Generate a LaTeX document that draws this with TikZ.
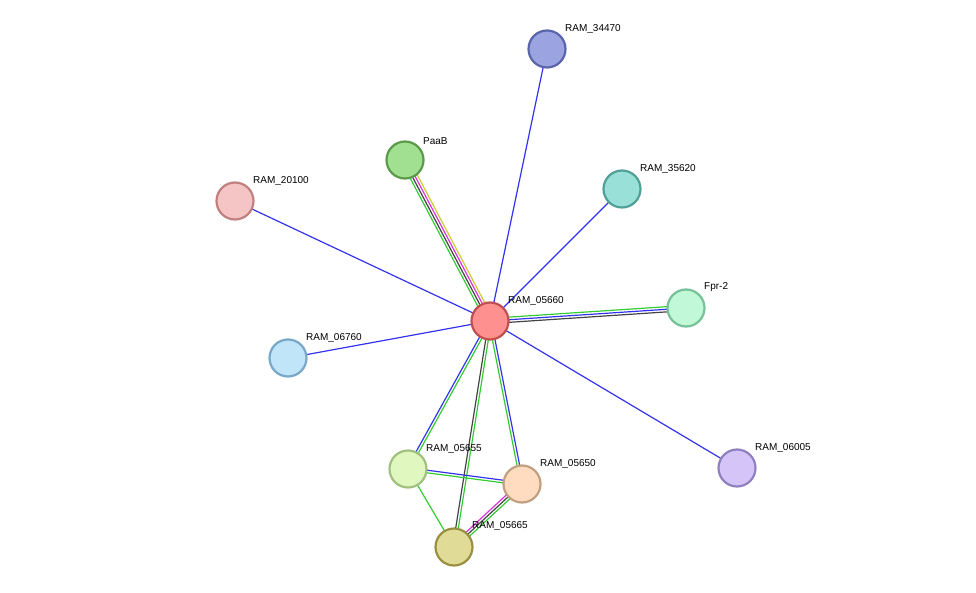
\documentclass[tikz,border=0pt]{standalone}
\usepackage{fontspec}
\setmainfont{Liberation Sans}
\usetikzlibrary{calc,backgrounds}
\definecolor{eg}{HTML}{33CC33}
\definecolor{eb}{HTML}{3333EE}
\definecolor{ek}{HTML}{444444}
\definecolor{em}{HTML}{DD33DD}
\definecolor{ey}{HTML}{CCCC33}
\definecolor{f0}{HTML}{FF9090}\definecolor{d0}{HTML}{C05050}
\definecolor{f1}{HTML}{9BA4E0}\definecolor{d1}{HTML}{5A64A8}
\definecolor{f2}{HTML}{A0E090}\definecolor{d2}{HTML}{5A9A4A}
\definecolor{f3}{HTML}{F5C4C4}\definecolor{d3}{HTML}{C08080}
\definecolor{f4}{HTML}{98E0D8}\definecolor{d4}{HTML}{50A098}
\definecolor{f5}{HTML}{C0F8D8}\definecolor{d5}{HTML}{78C098}
\definecolor{f6}{HTML}{C0E4F8}\definecolor{d6}{HTML}{78A8C8}
\definecolor{f7}{HTML}{E0F8C0}\definecolor{d7}{HTML}{A0C080}
\definecolor{f8}{HTML}{FFDCC0}\definecolor{d8}{HTML}{C0A080}
\definecolor{f9}{HTML}{E0DC98}\definecolor{d9}{HTML}{989040}
\definecolor{f10}{HTML}{D4C4F8}\definecolor{d10}{HTML}{9080C0}
\tikzset{
  prot/.style={circle,minimum size=37pt,inner sep=0pt,line width=2.2pt,fill=f#1,draw=d#1},
  lbl/.style={font=\fontsize{10}{12}\selectfont,anchor=south west,inner sep=1pt},
  edge/.style={line width=1.2pt}
}
\newcommand{\medge}[3]{%
  \foreach \c [count=\i] in {#3} {\xdef\ncount{\i}}%
  \foreach \c [count=\i] in {#3} {%
    \pgfmathsetmacro{\off}{(\i-1)*2.6-(\ncount-1)*1.3}%
    \draw[edge,\c] ($(#1.center)!\off pt!90:(#2.center)$) -- ($(#2.center)!\off pt!-90:(#1.center)$);}%
}
\begin{document}
\begin{tikzpicture}[x=1pt,y=-1pt]
\useasboundingbox (0,0) rectangle (976,593);
\node[prot=0] (c) at (490,321) {};
\node[prot=1] (a1) at (547,49) {};
\node[prot=2] (a2) at (405,160) {};
\node[prot=3] (a3) at (235,201) {};
\node[prot=4] (a4) at (622,189) {};
\node[prot=5] (a5) at (686,308) {};
\node[prot=6] (a6) at (288,358) {};
\node[prot=7] (a7) at (408,469) {};
\node[prot=8] (a8) at (522,484) {};
\node[prot=9] (a9) at (454,547) {};
\node[prot=10] (a10) at (737,468) {};
\node[lbl] at (507,307) {RAM\_05660};
\node[lbl] at (564,35) {RAM\_34470};
\node[lbl] at (422,146) {PaaB};
\node[lbl] at (252,187) {RAM\_20100};
\node[lbl] at (639,175) {RAM\_35620};
\node[lbl] at (703,293) {Fpr-2};
\node[lbl] at (305,344) {RAM\_06760};
\node[lbl] at (425,455) {RAM\_05655};
\node[lbl] at (539,470) {RAM\_05650};
\node[lbl] at (471,532) {RAM\_05665};
\node[lbl] at (754,454) {RAM\_06005};
\begin{scope}[on background layer]
\medge{c}{a1}{eb}
\medge{c}{a3}{eb}
\medge{c}{a4}{eb}
\medge{c}{a6}{eb}
\medge{c}{a10}{eb}
\medge{a2}{c}{eg,ek,em,ey}
\medge{c}{a5}{ek,eb,eg}
\medge{c}{a7}{eb,eg}
\medge{c}{a8}{eg,eb}
\medge{c}{a9}{ek,eg}
\medge{a7}{a8}{eg,eb}
\medge{a7}{a9}{eg}
\medge{a9}{a8}{eg,ek,em}
\end{scope}
\end{tikzpicture}
\end{document}
